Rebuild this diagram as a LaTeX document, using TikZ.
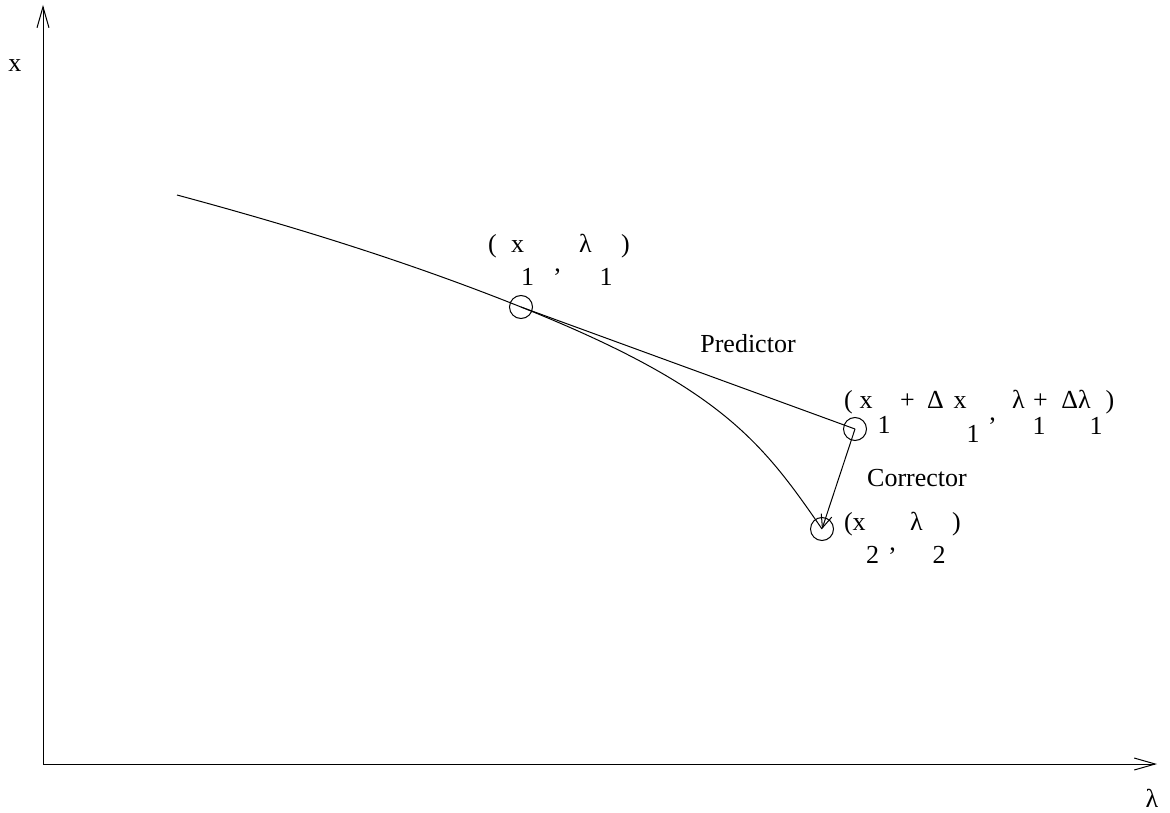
\documentclass[tikz,border=0pt]{standalone}
\usepackage{fontspec}
\setmainfont{Liberation Serif}
\usetikzlibrary{arrows.meta}
\begin{document}
\begin{tikzpicture}[x=1pt,y=-1pt,line width=1pt,
  lab/.style={anchor=base,inner sep=0pt,font=\fontsize{26}{30}\selectfont},
  flat/.style={text depth=0pt},
  sub/.style={text height=17pt,text depth=0pt},
  pt/.style={draw,circle,minimum size=23pt,inner sep=0pt},
  axisarrow/.style={-{Straight Barb[length=21pt,width=12pt,line width=1pt]}},
  corrarrow/.style={-{Straight Barb[length=13pt,width=11pt,line width=1pt]}}]
\useasboundingbox (0,0) rectangle (1170,813);
% axes
\coordinate (o) at (43,764);
\coordinate (ytop) at (43,5);
\coordinate (xend) at (1157,764);
\draw[axisarrow] (o) -- (ytop);
\draw[axisarrow] (o) -- (xend);
\node[lab] (xlab) at (15,72) {x};
\node[lab] (llab) at (1152,807) {λ};
% points
\node[pt] (c1) at (521,307) {};
\node[pt] (c2) at (855,429) {};
\node[pt] (c3) at (822,529) {};
\coordinate (s) at (177,195);
% curve
\draw (s) .. controls (292,226) and (406,261) .. (c1.center)
          .. controls (721,387) and (762,442) .. (c3.center);
% predictor and corrector
\draw (c1.center) -- (c2.center);
\draw[corrarrow] (c2.center) -- (c3.center);
\node[lab] (pred) at (748,352) {Predictor};
\node[lab] (corr) at (917,486) {Corrector};
% label 1
\node[lab] (a1) at (492.5,253) {(};
\node[lab] (a2) at (517.5,253) {x};
\node[lab] (a3) at (585.5,253) {λ};
\node[lab] (a4) at (625.5,253) {)};
\node[lab,sub] (a5) at (527.5,285) {1};
\node[lab] (a6) at (557.5,272) {,};
\node[lab,sub] (a7) at (606,285) {1};
% label 2
\node[lab] (b1) at (848.5,408) {(};
\node[lab] (b2) at (866,408) {x};
\node[lab] (b3) at (907.5,408) {+};
\node[lab] (b4) at (935.5,408) {Δ};
\node[lab] (b5) at (960,408) {x};
\node[lab,flat] (b6) at (1018.5,408) {λ};
\node[lab,flat] (b7) at (1040.5,408) {+};
\node[lab,flat] (b8) at (1076,408) {Δλ};
\node[lab] (b9) at (1110,408) {)};
\node[lab,sub] (b10) at (884,433) {1};
\node[lab,sub] (b11) at (973,442) {1};
\node[lab] (b12) at (992.5,420) {,};
\node[lab,sub] (b13) at (1039,434) {1};
\node[lab,sub] (b14) at (1096,434) {1};
% label 3
\node[lab] (d1) at (848.5,530) {(};
\node[lab] (d2) at (859,530) {x};
\node[lab] (d3) at (916.5,530) {λ};
\node[lab] (d4) at (956.5,530) {)};
\node[lab,sub] (d5) at (872.5,563) {2};
\node[lab] (d6) at (892.5,550) {,};
\node[lab,sub] (d7) at (939,563) {2};
\end{tikzpicture}
\end{document}
